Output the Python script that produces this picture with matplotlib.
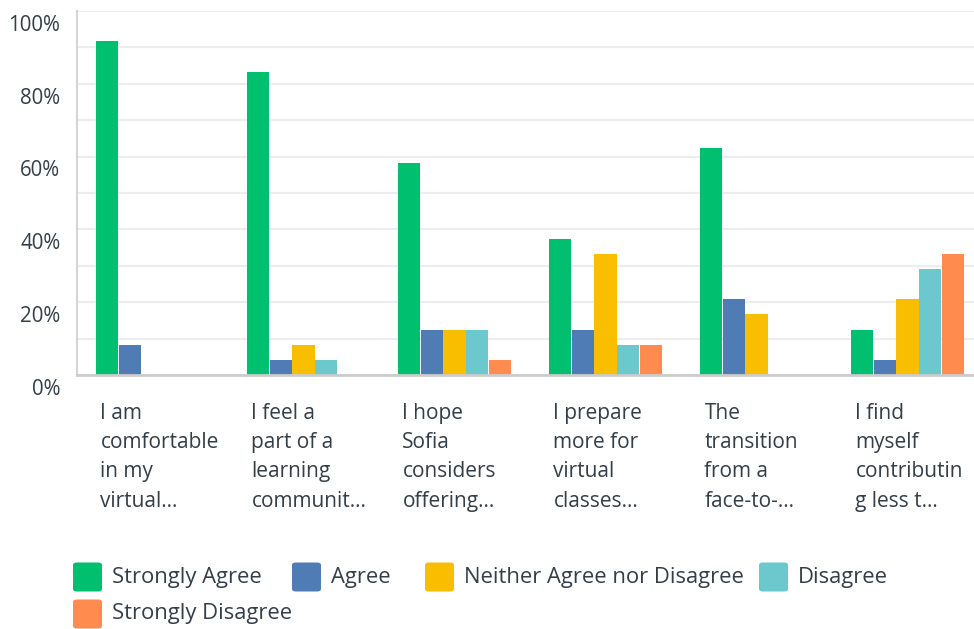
import matplotlib
matplotlib.use("Agg")
import matplotlib.pyplot as plt
from matplotlib.patches import FancyBboxPatch
from matplotlib.transforms import ScaledTranslation
import numpy as np

categories = [
    "I am\ncomfortable\nin my\nvirtual...",
    "I feel a\npart of a\nlearning\ncommunit...",
    "I hope\nSofia\nconsiders\noffering...",
    "I prepare\nmore for\nvirtual\nclasses...",
    "The\ntransition\nfrom a\nface-to-...",
    "I find\nmyself\ncontributin\ng less t...",
]
series_names = ["Strongly Agree", "Agree", "Neither Agree nor Disagree", "Disagree", "Strongly Disagree"]
strongly_agree = [91.67, 83.33, 58.33, 37.50, 62.50, 12.50]
agree = [8.33, 4.17, 12.50, 12.50, 20.83, 4.17]
neither = [0.0, 8.33, 12.50, 33.33, 16.67, 20.83]
disagree = [0.0, 4.17, 12.50, 8.33, 0.0, 29.17]
strongly_disagree = [0.0, 0.0, 4.17, 8.33, 0.0, 33.33]
y_ticks = [0, 20, 40, 60, 80, 100]
y_tick_labels = ["0%", "20%", "40%", "60%", "80%", "100%"]

colors = ["#00BF6F", "#507CB6", "#F9BE00", "#6BC8CD", "#FF8B4F"]
text_color = "#333E48"
font = "Open Sans"

W, H = 974, 629
fig = plt.figure(figsize=(W / 100, H / 100), dpi=100)
ax = fig.add_axes([77 / W, 1 - 375 / H, 906 / W, 364 / H])

values = [strongly_agree, agree, neither, disagree, strongly_disagree]
x = np.arange(len(categories))
step = 0.152
bw = 0.146
for i, (vals, c) in enumerate(zip(values, colors)):
    ax.bar(x + (i - 2) * step, vals, width=bw, color=c, zorder=3, linewidth=0)

ax.set_xlim(-0.5, len(categories) - 0.5)
ax.set_ylim(0, 100)

ax.set_yticks(y_ticks)
ax.set_yticklabels(y_tick_labels, fontsize=14.8, color=text_color, family=font)
ax.set_yticks(np.arange(10, 100, 20), minor=True)
ax.grid(True, which="both", axis="y", color="#EDEDED", linewidth=1.6, zorder=0)
ax.tick_params(axis="y", which="both", length=0, pad=12)
for lab in ax.get_yticklabels():
    lab.set_transform(lab.get_transform() + ScaledTranslation(0, -8.5 / 72, fig.dpi_scale_trans))

ax.set_xticks(x - 0.345)
ax.set_xticklabels(categories, fontsize=15, color=text_color, family=font,
                   ha="left", va="top", linespacing=1.52)
ax.tick_params(axis="x", length=0, pad=20)

for s in ["top", "right"]:
    ax.spines[s].set_visible(False)
ax.spines["left"].set_color("#D5D5D5")
ax.spines["left"].set_linewidth(1.5)
ax.spines["bottom"].set_color("#CCCCCC")
ax.spines["bottom"].set_linewidth(2)
ax.spines["bottom"].set_zorder(4)

# legend
legend_items = [
    (0, 73, 577), (1, 292, 577), (2, 425, 577), (3, 759, 577), (4, 73, 614),
]
for idx, px, py in legend_items:
    sq = 29
    p = FancyBboxPatch((px / W, 1 - (py + sq / 2) / H), sq / W, sq / H,
                       boxstyle="round,pad=0,rounding_size=0.004",
                       transform=fig.transFigure, facecolor=colors[idx],
                       edgecolor="none")
    fig.patches.append(p)
    fig.text((px + sq + 10) / W, 1 - py / H, series_names[idx], fontsize=15.8,
             color=text_color, family=font, va="center", ha="left")

fig.savefig("out.png", dpi=100)
